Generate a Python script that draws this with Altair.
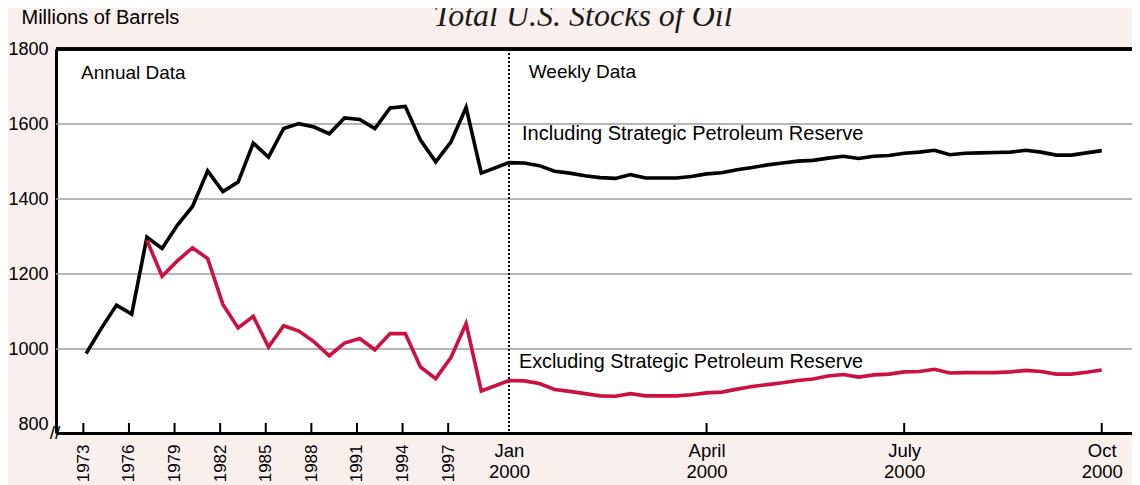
import altair as alt
import pandas as pd

# ---------------- data ----------------
TITLE = "Total U.S. Stocks of Oil"
Y_TITLE = "Millions of Barrels"
SERIES = ["Including Strategic Petroleum Reserve", "Excluding Strategic Petroleum Reserve"]
SERIES_COLORS = ["#000000", "#cc1040"]

# Annual data (millions of barrels)
incl_years = list(range(1973, 2000))
incl_annual = [988, 1055, 1117, 1093, 1298, 1268, 1330, 1380, 1475, 1420, 1445, 1549,
               1512, 1588, 1601, 1592, 1574, 1616, 1612, 1588, 1643, 1647, 1557, 1499,
               1552, 1644, 1469]
excl_years = list(range(1977, 2000))
excl_annual = [1290, 1194, 1235, 1270, 1241, 1119, 1056, 1087, 1005, 1062, 1048, 1019,
               982, 1016, 1028, 998, 1041, 1041, 952, 921, 977, 1068, 888]

# Weekly data, Jan 2000 - Oct 2000 (week number from first week of Jan 2000)
week_numbers = list(range(40))
incl_weekly = [1497, 1496, 1489, 1474, 1469, 1462, 1457, 1455, 1465, 1456,
               1456, 1456, 1460, 1467, 1470, 1478, 1484, 1491, 1496, 1501,
               1503, 1509, 1514, 1508, 1514, 1516, 1522, 1525, 1530, 1518,
               1522, 1523, 1524, 1525, 1530, 1525, 1517, 1517, 1523, 1529]
excl_weekly = [916, 915, 908, 892, 887, 881, 875, 874, 881, 875,
               875, 875, 878, 883, 885, 893, 900, 905, 910, 916,
               920, 928, 932, 925, 931, 933, 939, 940, 946, 936,
               937, 937, 937, 939, 943, 940, 933, 933, 938, 944]

# axis ticks / labels
y_ticks = [800, 1000, 1200, 1400, 1600, 1800]
grid_values = [1000, 1200, 1400, 1600]
annual_tick_years = [1973, 1976, 1979, 1982, 1985, 1988, 1991, 1994, 1997]
weekly_tick_weeks = [0, 13, 26, 39]
weekly_tick_labels = [["Jan", "2000"], ["April", "2000"], ["July", "2000"], ["Oct", "2000"]]

panel_labels = ["Annual Data", "Weekly Data"]

# ---------------- x index layout ----------------
BASE_YEAR = 1973
WEEK_START = 28           # slot of Jan 2000 on the shared index axis
YEAR_POINT_OFFSET = 0.18  # annual values plotted slightly right of the year tick


def year_slot(y):
    return y - BASE_YEAR + YEAR_POINT_OFFSET


def week_slot(k):
    return WEEK_START + k


rows = []
for y, v in zip(incl_years, incl_annual):
    rows.append({"t": year_slot(y), "value": v, "series": SERIES[0]})
for k, v in zip(week_numbers, incl_weekly):
    rows.append({"t": week_slot(k), "value": v, "series": SERIES[0]})
for y, v in zip(excl_years, excl_annual):
    rows.append({"t": year_slot(y), "value": v, "series": SERIES[1]})
for k, v in zip(week_numbers, excl_weekly):
    rows.append({"t": week_slot(k), "value": v, "series": SERIES[1]})
df = pd.DataFrame(rows)

annot = pd.DataFrame({
    "text": [panel_labels[0], panel_labels[1], SERIES[0], SERIES[1]],
    "t": [-0.15, 29.3, 28.86, 28.66],
    "value": [1720, 1722, 1557, 949],
    "size": [19, 19, 20, 19.8],
})

annual_tick_t = [y - BASE_YEAR for y in annual_tick_years]
weekly_tick_t = [week_slot(k) for k in weekly_tick_weeks]
ticks_df = pd.DataFrame({"t": annual_tick_t + weekly_tick_t[1:]})
grid_df = pd.DataFrame({"value": grid_values})

annual_expr = "'' + (datum.value + %d)" % BASE_YEAR
weekly_expr = "''"
for t, (a, b) in reversed(list(zip(weekly_tick_t, weekly_tick_labels))):
    weekly_expr = "datum.value == %s ? ['%s', '%s'] : %s" % (t, a, b, weekly_expr)

# ---------------- geometry ----------------
W, H = 1076, 384
PX_PER_SLOT = 15.2
X0 = -1.8
x_scale = alt.Scale(domain=[X0, X0 + W / PX_PER_SLOT], nice=False, zero=False)
y_scale = alt.Scale(domain=[776, 1800], nice=False, zero=False)
FONT = "Liberation Sans"

y_axis = alt.Axis(values=y_ticks, format="d", ticks=False, domain=True, domainColor="black",
                  domainWidth=3, grid=False, labelFontSize=18, labelFont=FONT,
                  labelColor="black", labelPadding=8, labelFlush=False,
                  title=Y_TITLE, titleAngle=0, titleAlign="left",
                  titleBaseline="alphabetic", titleX=-35, titleY=-26,
                  titleFont=FONT, titleFontSize=20, titleFontWeight="normal",
                  titleColor="black")

# gridlines
grid = alt.Chart(grid_df).mark_rule(color="#9c9c9c", strokeWidth=1.3).encode(
    y=alt.Y("value:Q", scale=y_scale, axis=y_axis),
    x=alt.value(0), x2=alt.value(W),
)

# top border
top_border = alt.Chart(grid_df).mark_rule(color="black", strokeWidth=3).encode(
    y=alt.Y(datum=1800, scale=y_scale, axis=y_axis), x=alt.value(0), x2=alt.value(W),
)

# dotted separator at Jan 2000
sep = alt.Chart(grid_df).mark_rule(color="black", strokeWidth=1.2, strokeDash=[2, 2]).encode(
    x=alt.X(datum=WEEK_START, scale=x_scale, axis=None), y=alt.value(0), y2=alt.value(H),
)

# inward tick marks (carry the weekly label axis)
tick_marks = alt.Chart(ticks_df).mark_rule(color="black", strokeWidth=2).encode(
    x=alt.X("t:Q", scale=x_scale,
            axis=alt.Axis(values=weekly_tick_t, labelExpr=weekly_expr, orient="bottom",
                          labelAngle=0, labelAlign="center", labelBaseline="top",
                          ticks=False, domain=False, grid=False, title=None,
                          labelFontSize=18.5, labelFont=FONT, labelColor="black",
                          labelPadding=8, labelLineHeight=21, labelFlush=False,
                          labelOverlap=False)),
    y=alt.value(H), y2=alt.value(H - 10),
)

lines = alt.Chart(df).mark_line(strokeWidth=3.6, strokeJoin="miter").encode(
    x=alt.X("t:Q", scale=x_scale,
            axis=alt.Axis(values=annual_tick_t, labelExpr=annual_expr, orient="bottom",
                          labelAngle=270, labelAlign="right", labelBaseline="middle",
                          ticks=False, domain=True, domainColor="black", domainWidth=3,
                          grid=False, title=None, labelFontSize=17, labelFont=FONT,
                          labelColor="black", labelPadding=11, labelFlush=False,
                          labelOverlap=False)),
    y=alt.Y("value:Q", scale=y_scale, axis=y_axis),
    color=alt.Color("series:N", scale=alt.Scale(domain=SERIES, range=SERIES_COLORS), legend=None),
    detail="series:N",
)

labels = alt.Chart(annot).mark_text(align="left", baseline="alphabetic", font=FONT,
                                    color="black").encode(
    x=alt.X("t:Q", scale=x_scale, axis=None),
    y=alt.Y("value:Q", scale=y_scale, axis=y_axis),
    text="text:N",
    size=alt.Size("size:Q", scale=None, legend=None),
)

title = alt.Chart(pd.DataFrame({"text": [TITLE]})).mark_text(
    align="center", baseline="alphabetic", font="Liberation Serif", fontStyle="italic",
    fontSize=32, color="#1a1a1a").encode(
    x=alt.value(527), y=alt.value(-23), text="text:N")

brk = alt.Chart(pd.DataFrame({"text": ["//"]})).mark_text(
    align="center", baseline="middle", font=FONT, fontSize=19, color="black").encode(
    x=alt.value(-1), y=alt.value(H), text="text:N")

chart = alt.layer(grid, sep, tick_marks, lines, top_border, labels, title, brk).resolve_scale(
    x="shared", y="shared").resolve_axis(x="independent").properties(
    width=W, height=H,
    autosize=alt.AutoSizeParams(type="none"),
    padding={"left": 48, "top": 41, "right": 0, "bottom": 52},
    background="#f9efed",
).configure_view(fill="white", stroke=None)

chart.save("out.html", embed_options={"renderer": "svg", "actions": False})
